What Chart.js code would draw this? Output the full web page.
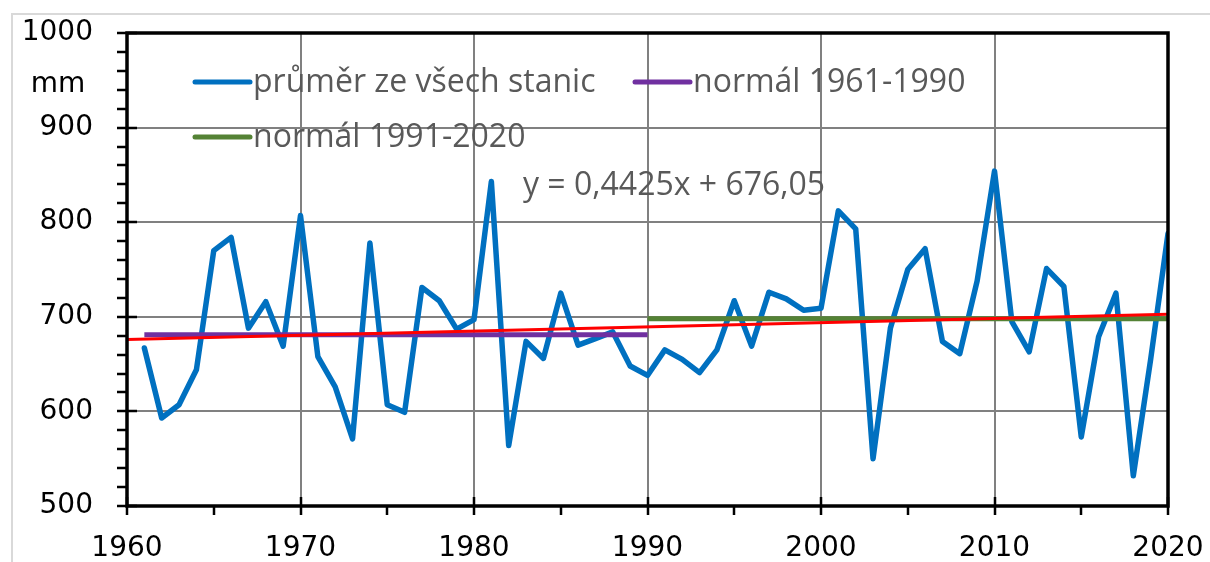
<!DOCTYPE html>
<html>
<head>
<meta charset="utf-8">
<title>Srážky 1961-2020</title>
<script src="https://cdn.jsdelivr.net/npm/chart.js@4/dist/chart.umd.min.js"></script>
<style>
  html, body { margin: 0; padding: 0; background: #fff; }
  #wrap { position: relative; width: 1210px; height: 562px; }
</style>
</head>
<body>
<div id="wrap"><canvas id="rainChart" width="1210" height="562"></canvas></div>
<script>
// years and yearly precipitation (mm)
const years = [
  1961, 1962, 1963, 1964, 1965, 1966, 1967, 1968, 1969, 1970,
  1971, 1972, 1973, 1974, 1975, 1976, 1977, 1978, 1979, 1980,
  1981, 1982, 1983, 1984, 1985, 1986, 1987, 1988, 1989, 1990,
  1991, 1992, 1993, 1994, 1995, 1996, 1997, 1998, 1999, 2000,
  2001, 2002, 2003, 2004, 2005, 2006, 2007, 2008, 2009, 2010,
  2011, 2012, 2013, 2014, 2015, 2016, 2017, 2018, 2019, 2020
];
const precip = [
  667, 593, 607, 644, 770, 784, 688, 716, 669, 807,
  658, 626, 571, 778, 607, 599, 731, 717, 687, 697,
  843, 564, 674, 656, 725, 670, 677, 684, 648, 638,
  665, 655, 641, 665, 717, 669, 726, 719, 707, 709,
  812, 793, 550, 688, 750, 772, 674, 661, 738, 854,
  695, 663, 751, 732, 573, 679, 725, 532, 655, 788
];

// normals
const normal1Years = [1961, 1990];
const normal1Values = [681, 681];
const normal2Years = [1990, 2020];
const normal2Values = [698, 698];

// linear trend end points (y = 0,4425x + 676,05)
const trendYears = [1960, 2020];
const trendValues = [676.05, 702.6];

// axis ticks
const xTicks = [1960, 1970, 1980, 1990, 2000, 2010, 2020];
const yTicks = [500, 600, 700, 800, 900, 1000];

// labels
const seriesLabels = ['průměr ze všech stanic', 'normál 1961-1990', 'normál 1991-2020'];
const trendLabel = 'y = 0,4425x + 676,05';
const unitLabel = 'mm';

function pts(xs, ys) {
  return xs.map((x, i) => ({ x: x, y: ys[i] }));
}

const blue = '#0070C0';
const purple = '#7030A0';
const green = '#548235';
const red = '#FF0000';

// light grey frame of the whole picture
const outerFrame = {
  id: 'outerFrame',
  beforeDraw(chart) {
    const ctx = chart.ctx;
    ctx.save();
    ctx.strokeStyle = '#d9d9d9';
    ctx.lineWidth = 2;
    ctx.beginPath();
    ctx.moveTo(12, 562);
    ctx.lineTo(12, 14);
    ctx.lineTo(1210, 14);
    ctx.stroke();
    ctx.restore();
  }
};

// black plot frame and tick marks (major cross the axis, minor outside)
const frameTicks = {
  id: 'frameTicks',
  afterDatasetsDraw(chart) {
    const ctx = chart.ctx;
    const a = chart.chartArea;
    const xs = chart.scales.x;
    const ys = chart.scales.y;
    ctx.save();
    ctx.strokeStyle = '#000';
    ctx.lineWidth = 3.5;
    ctx.strokeRect(a.left, a.top, a.right - a.left, a.bottom - a.top);

    ctx.lineWidth = 2.5;
    ctx.beginPath();
    for (let v = ys.min; v <= ys.max; v += 20) {
      const py = Math.round(ys.getPixelForValue(v));
      const major = v % 100 === 0;
      ctx.moveTo(a.left - 10, py);
      ctx.lineTo(major ? a.left + 10 : a.left, py);
    }
    for (let v = xs.min; v <= xs.max; v += 5) {
      const px = Math.round(xs.getPixelForValue(v));
      const major = v % 10 === 0;
      ctx.moveTo(px, major ? a.bottom - 9 : a.bottom);
      ctx.lineTo(px, a.bottom + 9);
    }
    ctx.stroke();
    ctx.restore();
  }
};

// legend inside the plot, trend equation and unit
const legendText = {
  id: 'legendText',
  afterDraw(chart) {
    const ctx = chart.ctx;
    const items = [
      { color: blue, label: seriesLabels[0], x: 195, y: 82 },
      { color: purple, label: seriesLabels[1], x: 635, y: 82 },
      { color: green, label: seriesLabels[2], x: 195, y: 137 }
    ];
    ctx.save();
    ctx.lineCap = 'round';
    ctx.lineWidth = 5;
    items.forEach(it => {
      ctx.strokeStyle = it.color;
      ctx.beginPath();
      ctx.moveTo(it.x, it.y);
      ctx.lineTo(it.x + 55, it.y);
      ctx.stroke();
    });
    ctx.fillStyle = '#595959';
    ctx.font = '32px "Open Sans"';
    ctx.textBaseline = 'alphabetic';
    ctx.textAlign = 'left';
    items.forEach(it => ctx.fillText(it.label, it.x + 58, it.y + 10));
    ctx.fillText(trendLabel, 523, 195);

    ctx.fillStyle = '#000';
    ctx.font = '28px "DejaVu Sans"';
    ctx.textAlign = 'center';
    ctx.fillText(unitLabel, 58, 92);
    ctx.restore();
  }
};

const ctx = document.getElementById('rainChart').getContext('2d');
new Chart(ctx, {
  type: 'line',
  data: {
    datasets: [
      {
        label: 'trend',
        data: pts(trendYears, trendValues),
        borderColor: red,
        borderWidth: 3,
        pointRadius: 0
      },
      {
        label: seriesLabels[2],
        data: pts(normal2Years, normal2Values),
        borderColor: green,
        borderWidth: 5,
        pointRadius: 0
      },
      {
        label: seriesLabels[1],
        data: pts(normal1Years, normal1Values),
        borderColor: purple,
        borderWidth: 5,
        pointRadius: 0
      },
      {
        label: seriesLabels[0],
        data: pts(years, precip),
        borderColor: blue,
        borderWidth: 5.5,
        pointRadius: 0,
        borderJoinStyle: 'round',
        borderCapStyle: 'round'
      }
    ]
  },
  options: {
    responsive: false,
    animation: false,
    layout: { padding: { left: 0, right: 42, top: 33, bottom: 0 } },
    plugins: {
      legend: { display: false },
      tooltip: { enabled: false }
    },
    scales: {
      x: {
        type: 'linear',
        min: 1960,
        max: 2020,
        afterFit: s => {
          s.height = 56;
          s.paddingLeft = 0;
          s.paddingRight = 0;
        },
        afterBuildTicks: s => { s.ticks = xTicks.map(v => ({ value: v })); },
        ticks: {
          color: '#000',
          font: { family: 'DejaVu Sans', size: 28 },
          padding: 26,
          maxRotation: 0,
          callback: v => String(v)
        },
        grid: { color: '#808080', lineWidth: 2, drawTicks: false },
        border: { display: false }
      },
      y: {
        min: 500,
        max: 1000,
        afterFit: s => {
          s.width = 127;
          s.paddingTop = 0;
          s.paddingBottom = 0;
        },
        afterBuildTicks: s => { s.ticks = yTicks.map(v => ({ value: v })); },
        ticks: {
          color: '#000',
          font: { family: 'DejaVu Sans', size: 28 },
          padding: 34,
          callback: v => String(v)
        },
        grid: { color: '#808080', lineWidth: 2, drawTicks: false },
        border: { display: false }
      }
    }
  },
  plugins: [outerFrame, frameTicks, legendText]
});
</script>
</body>
</html>
